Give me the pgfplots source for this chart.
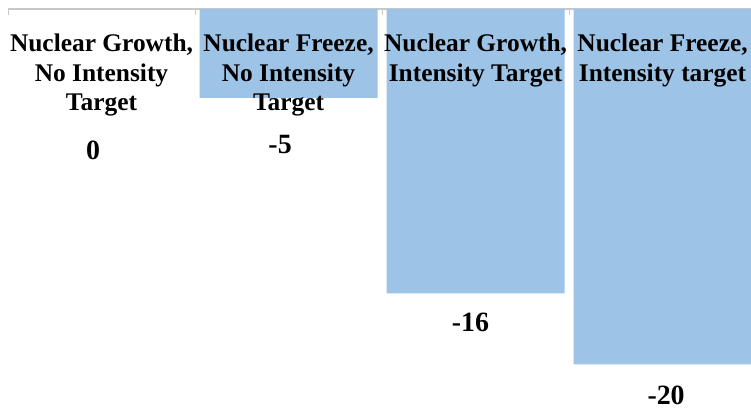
\documentclass[border=0pt]{standalone}
\usepackage{pgfplots}
\pgfplotsset{compat=1.18}
\usepackage{fontspec}
\setmainfont{Liberation Serif}
\definecolor{barblue}{RGB}{157,195,230}
\definecolor{axisgray}{RGB}{200,200,200}

\begin{document}
\begin{tikzpicture}
\useasboundingbox (-8bp,0) rectangle (743bp,409bp);
\begin{axis}[
  at={(0,0)}, anchor=south west,
  scale only axis,
  width=743bp, height=400bp,
  xmin=-0.5, xmax=3.473,
  ymin=-22.51, ymax=0,
  axis x line=top,
  axis y line=none,
  axis line style={draw=axisgray, line width=1.5bp, -},
  xtick={-0.5,0.5,1.5,2.5},
  xticklabels={},
  major tick length=6bp,
  tick align=inside,
  tick style={draw=axisgray, line width=1bp},
  ytick=\empty,
  clip=true,
]
  % scenario results
  \addplot[ybar, bar width=0.952, fill=barblue, draw=none]
    coordinates {(0,0) (1,-5) (2,-16) (3,-20)};

  % scenario names
  \begin{scope}[every node/.style={anchor=north, inner sep=0pt, align=center,
      font=\fontsize{25.5}{29.5}\selectfont\bfseries}]
    \node at (axis cs:0,-1.40) {Nuclear Growth,\\No Intensity\\Target};
    \node at (axis cs:1,-1.40) {Nuclear Freeze,\\No Intensity\\Target};
    \node at (axis cs:2,-1.40) {Nuclear Growth,\\Intensity Target};
    \node at (axis cs:3,-1.40) {Nuclear Freeze,\\Intensity target};
  \end{scope}

  % values
  \begin{scope}[every node/.style={anchor=center, inner sep=0pt,
      font=\fontsize{28}{32}\selectfont\bfseries}]
    \node at (axis cs:-0.045,-7.93) {0};
    \node at (axis cs:0.955,-7.65) {-5};
    \node at (axis cs:1.973,-17.61) {-16};
    \node at (axis cs:3.019,-21.75) {-20};
  \end{scope}
\end{axis}
\end{tikzpicture}
\end{document}
